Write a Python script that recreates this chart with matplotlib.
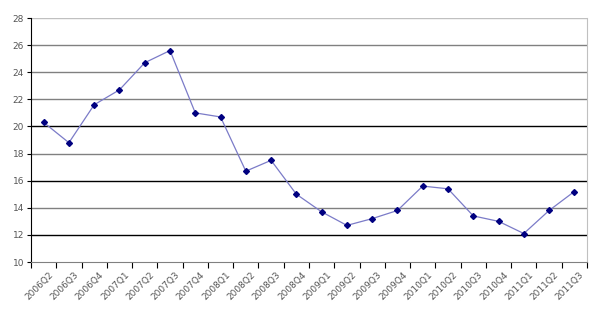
import matplotlib.pyplot as plt
import matplotlib.transforms as mtransforms
import numpy as np

quarters = ['2006Q2', '2006Q3', '2006Q4', '2007Q1', '2007Q2', '2007Q3', '2007Q4',
            '2008Q1', '2008Q2', '2008Q3', '2008Q4', '2009Q1', '2009Q2', '2009Q3',
            '2009Q4', '2010Q1', '2010Q2', '2010Q3', '2010Q4', '2011Q1', '2011Q2',
            '2011Q3']
values = [20.3, 18.8, 21.6, 22.7, 24.7, 25.6, 21.0, 20.7, 16.7, 17.5, 15.0,
          13.7, 12.7, 13.2, 13.8, 15.6, 15.4, 13.4, 13.0, 12.1, 13.8, 15.2]
y_ticks = [10, 12, 14, 16, 18, 20, 22, 24, 26, 28]

fig = plt.figure(figsize=(5.97, 3.13), dpi=100)
ax = fig.add_axes([31 / 597, 51 / 313, 556 / 597, 244 / 313])

x = np.arange(len(quarters))
ax.set_xlim(-0.5, len(quarters) - 0.5)
ax.set_ylim(10, 28)

# gridlines, alternating darkness like the source
grid_colors = {12: 'black', 14: '#808080', 16: 'black', 18: '#808080',
               20: 'black', 22: '#808080', 24: '#808080', 26: '#808080',
               28: '#c0c0c0'}
for yv, c in grid_colors.items():
    ax.axhline(yv, color=c, lw=1.0, zorder=1)

ax.plot(x, values, color='#7b7bc8', lw=0.9, zorder=2)
ax.plot(x, values, 'D', color='#000080', markersize=3, zorder=3)

for s in ['top']:
    ax.spines[s].set_visible(False)
ax.spines['right'].set_color('#c0c0c0')
ax.spines['left'].set_color('black')
ax.spines['bottom'].set_color('#808080')

ax.set_yticks(y_ticks)
ax.set_yticklabels([str(v) for v in y_ticks], fontsize=6.5, color='#555555',
                   family='Liberation Sans Narrow')
ax.tick_params(axis='y', length=3, width=0.8, pad=2)

ax.set_xticks(np.arange(-0.5, len(quarters)), minor=True)
ax.set_xticks(x)
ax.set_xticklabels(quarters, rotation=45, ha='right', rotation_mode='anchor',
                   fontsize=6.5, color='#555555', family='Liberation Sans Narrow')
ax.tick_params(axis='x', which='major', length=0, pad=6)
ax.tick_params(axis='x', which='minor', length=4, width=0.8, color='black')
offset = mtransforms.ScaledTranslation(5 / 100, 0, fig.dpi_scale_trans)
for lbl in ax.get_xticklabels():
    lbl.set_transform(lbl.get_transform() + offset)

fig.savefig('out.png', dpi=100)
